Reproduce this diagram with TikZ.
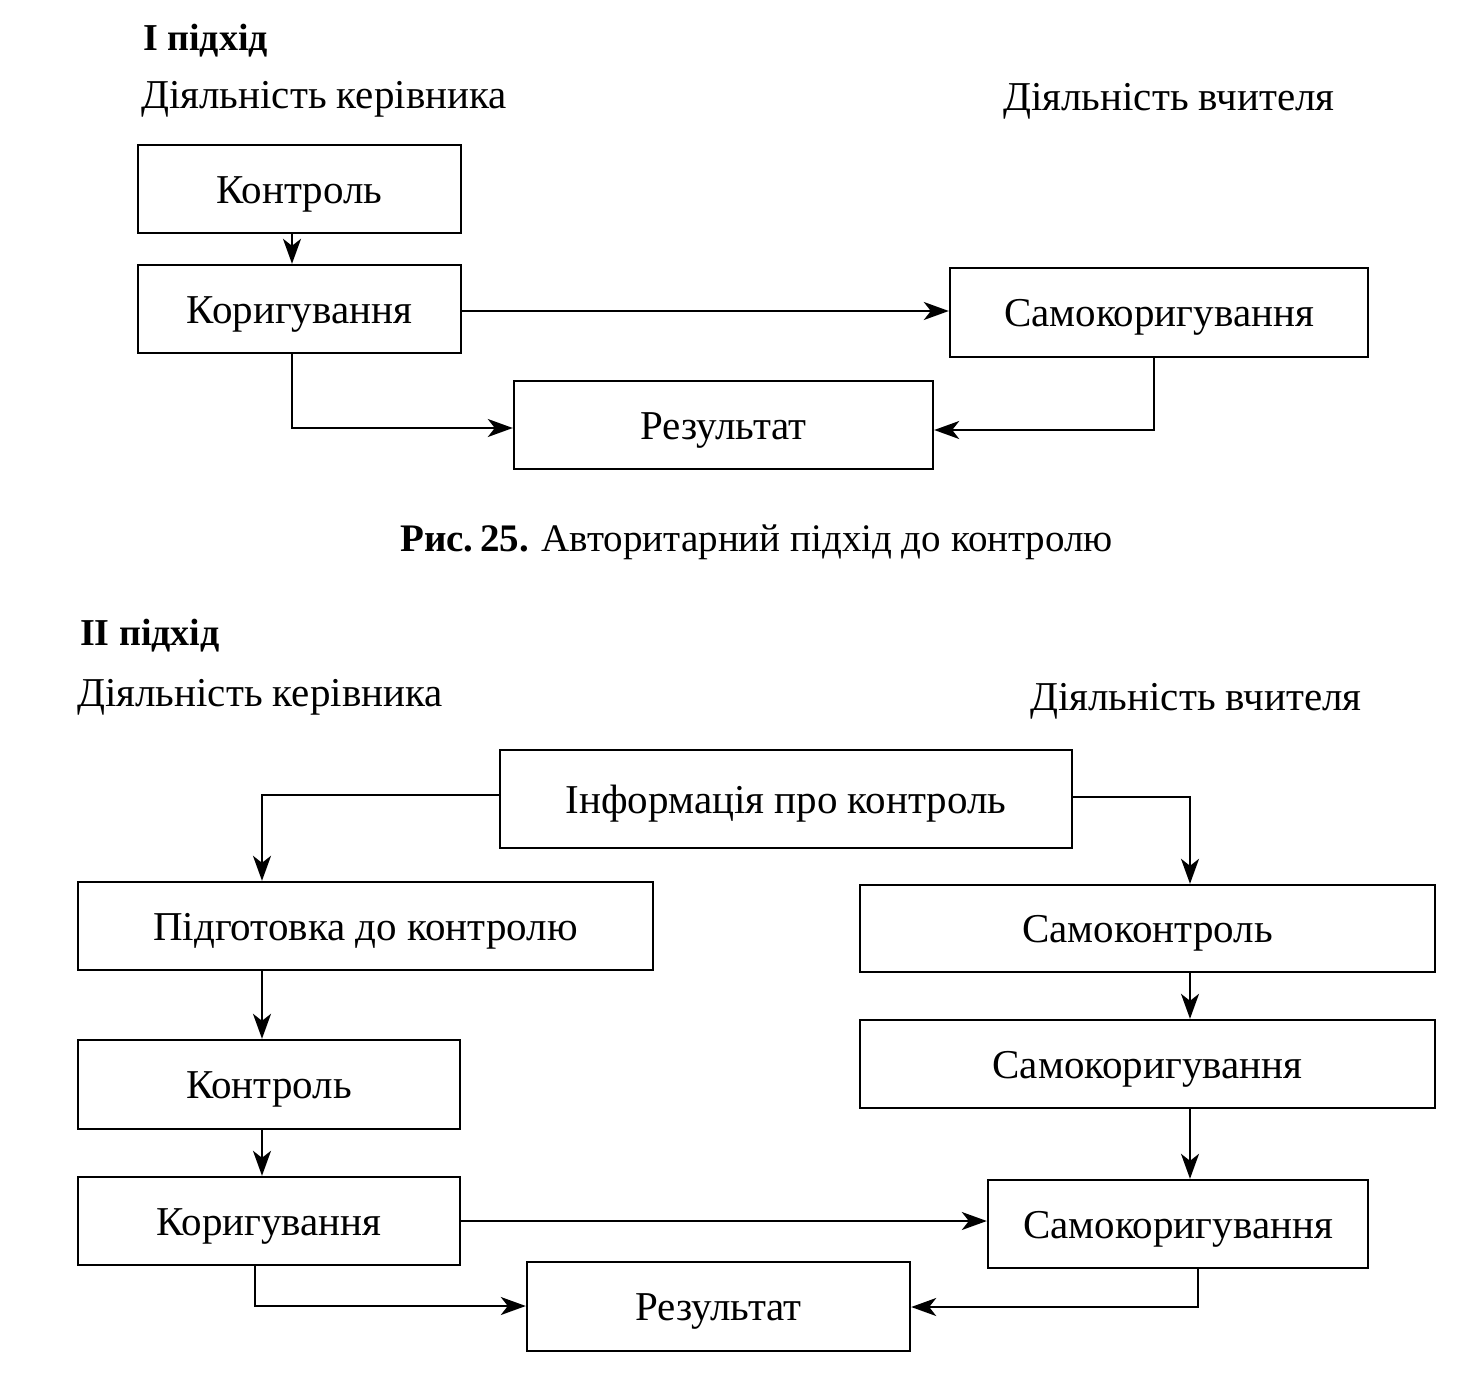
\documentclass[tikz,border=0pt]{standalone}
\usepackage{fontspec}
\setmainfont{Liberation Serif}
\usetikzlibrary{arrows.meta}
\begin{document}
\begin{tikzpicture}[x=1pt,y=-1pt,
  box/.style={draw, line width=2.4pt, inner sep=0pt, text height=28pt, text depth=0pt, font=\fontsize{41}{46}\selectfont},
  lbl/.style={inner sep=0pt, anchor=base west, font=\fontsize{41}{46}\selectfont},
  head/.style={inner sep=0pt, anchor=base west, font=\fontsize{38}{44}\selectfont\bfseries},
  conn/.style={line width=2pt, -{Stealth[length=25pt,width=18pt,inset=7pt]}}]
\useasboundingbox (0,0) rectangle (1483,1379);
% ---- Section I ----
\node[head] (h1) at (143,50) {І підхід};
\node[lbl] (k1) at (141,108) {Діяльність керівника};
\node[lbl] (v1) at (1003,110) {Діяльність вчителя};
\node[box, minimum width=323pt, minimum height=88pt] (a1) at (299.5,189) {Контроль};
\node[box, minimum width=323pt, minimum height=88pt] (a2) at (299.5,309) {Коригування};
\node[box, minimum width=418pt, minimum height=89pt] (a3) at (1159,312.5) {Самокоригування};
\node[box, minimum width=419pt, minimum height=88pt] (a4) at (723.5,425) {Результат};
\draw[conn] (a1.south -| 292,0) -- (a2.north -| 292,0);
\draw[conn] (a2.east |- 0,311) -- (a3.west |- 0,311);
\draw[conn] (a2.south -| 292,0) |- (a4.west |- 0,428);
\draw[conn] (a3.south -| 1154,0) |- (a4.east |- 0,430);
\node[inner sep=0pt, anchor=base west, font=\fontsize{39}{44}\selectfont] (cap) at (400,551) {\textbf{Рис.\,25.} Авторитарний підхід до контролю};
% ---- Section II ----
\node[head] (h2) at (80,645) {ІІ підхід};
\node[lbl] (k2) at (77,706) {Діяльність керівника};
\node[lbl] (v2) at (1030,710) {Діяльність вчителя};
\node[box, minimum width=572pt, minimum height=98pt] (b0) at (786,799) {Інформація про контроль};
\node[box, minimum width=575pt, minimum height=88pt] (b1) at (365.5,926) {Підготовка до контролю};
\node[box, minimum width=382pt, minimum height=89pt] (b2) at (269,1084.5) {Контроль};
\node[box, minimum width=382pt, minimum height=88pt] (b3) at (269,1221) {Коригування};
\node[box, minimum width=575pt, minimum height=87pt] (c1) at (1147.5,928.5) {Самоконтроль};
\node[box, minimum width=575pt, minimum height=88pt] (c2) at (1147.5,1064) {Самокоригування};
\node[box, minimum width=380pt, minimum height=88pt] (c3) at (1178,1224) {Самокоригування};
\node[box, minimum width=383pt, minimum height=89pt] (r2) at (718.5,1306.5) {Результат};
\draw[conn] (b0.west |- 0,795) -| (b1.north -| 262,0);
\draw[conn] (b0.east |- 0,797) -| (c1.north -| 1190,0);
\draw[conn] (b1.south -| 262,0) -- (b2.north -| 262,0);
\draw[conn] (b2.south -| 262,0) -- (b3.north -| 262,0);
\draw[conn] (c1.south -| 1190,0) -- (c2.north -| 1190,0);
\draw[conn] (c2.south -| 1190,0) -- (c3.north -| 1190,0);
\draw[conn] (b3.east |- 0,1221) -- (c3.west |- 0,1221);
\draw[conn] (b3.south -| 255,0) |- (r2.west |- 0,1306);
\draw[conn] (c3.south -| 1198,0) |- (r2.east |- 0,1307);
\end{tikzpicture}
\end{document}
